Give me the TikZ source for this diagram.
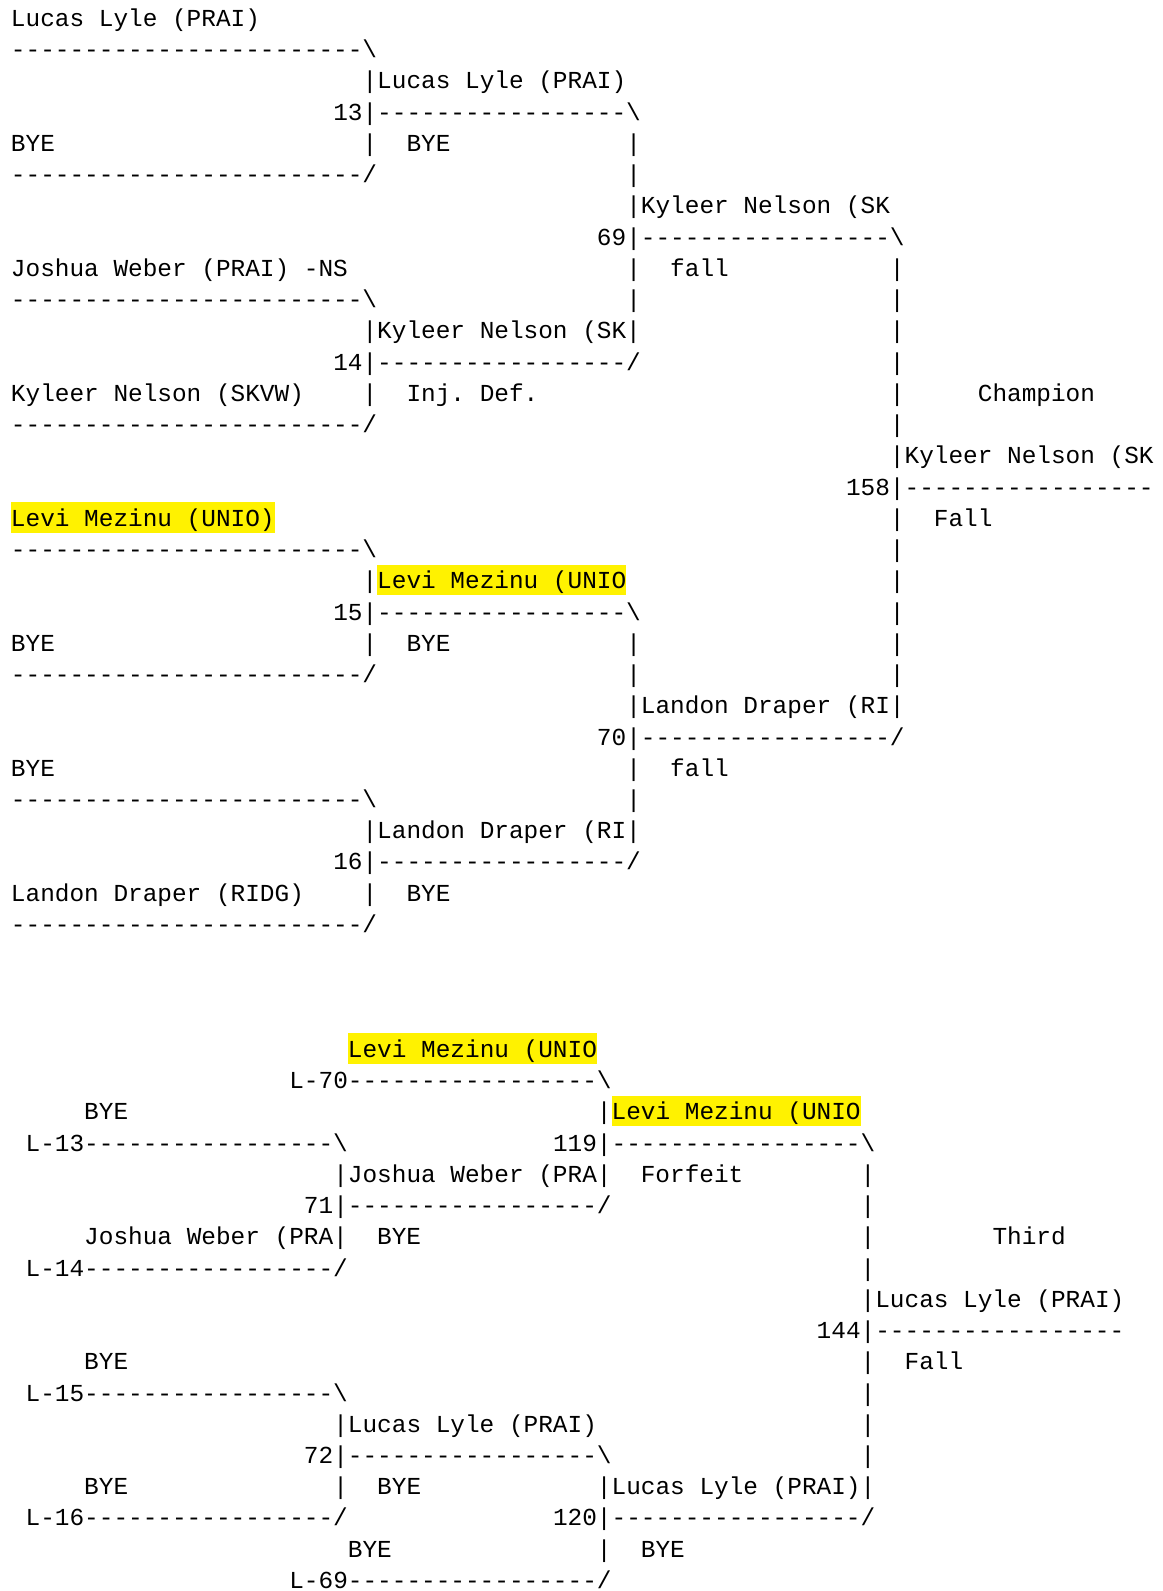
\documentclass[tikz,border=0pt]{standalone}
\usepackage{fontspec}
\setmonofont{Liberation Mono}
\usetikzlibrary{positioning}
\tikzset{
  asc/.style={font=\ttfamily\fontsize{24.41pt}{31.24pt}\selectfont,inner sep=0pt,outer sep=0pt,anchor=base west},
  hl/.style={asc,fill=yellow,text height=24.3pt,text depth=6.4pt}
}
\newcommand{\bs}{\textbackslash}

\begin{document}
\begin{tikzpicture}[x=14.65pt,y=-31.24pt]
  \fill[white] (0,0) rectangle (79.32,50.93);
  \useasboundingbox (0,0) rectangle (79.32,50.93);
  \begin{scope}[xshift=11pt,yshift=4.74pt]
  % championship bracket
  \node[asc] (e1) at (0,1) {Lucas Lyle (PRAI)};
  \node[asc] (l1) at (0,2) {------------------------\bs};
  \node[asc] (w13) at (24,3) {|Lucas Lyle (PRAI)};
  \node[asc] (m13) at (22,4) {13|-----------------\bs};
  \node[asc] (e2) at (0,5) {BYE};
  \node[asc] (r13) at (24,5) {|~~BYE};
  \node[asc] (l2) at (0,6) {------------------------/};
  \node[asc] (w69) at (42,7) {|Kyleer Nelson (SK};
  \node[asc] (m69) at (40,8) {69|-----------------\bs};
  \node[asc] (e3) at (0,9) {Joshua Weber (PRAI) -NS};
  \node[asc] (r69) at (42,9) {|~~fall};
  \node[asc] (l3) at (0,10) {------------------------\bs};
  \node[asc] (w14) at (24,11) {|Kyleer Nelson (SK|};
  \node[asc] (m14) at (22,12) {14|-----------------/};
  \node[asc] (e4) at (0,13) {Kyleer Nelson (SKVW)};
  \node[asc] (r14) at (24,13) {|~~Inj. Def.};
  \node[asc] (champ) at (60,13) {|~~~~~Champion};
  \node[asc] (l4) at (0,14) {------------------------/};
  \node[asc] (w158) at (60,15) {|Kyleer Nelson (SK};
  \node[asc] (m158) at (57,16) {158|-----------------};
  \node[hl] (e5) at (0,17) {Levi Mezinu (UNIO)};
  \node[asc] (r158) at (60,17) {|~~Fall};
  \node[asc] (l5) at (0,18) {------------------------\bs};
  \node[hl] (w15) at (25,19) {Levi Mezinu (UNIO};
  \node[asc] (m15) at (22,20) {15|-----------------\bs};
  \node[asc] (e6) at (0,21) {BYE};
  \node[asc] (r15) at (24,21) {|~~BYE};
  \node[asc] (l6) at (0,22) {------------------------/};
  \node[asc] (w70) at (42,23) {|Landon Draper (RI|};
  \node[asc] (m70) at (40,24) {70|-----------------/};
  \node[asc] (e7) at (0,25) {BYE};
  \node[asc] (r70) at (42,25) {|~~fall};
  \node[asc] (l7) at (0,26) {------------------------\bs};
  \node[asc] (w16) at (24,27) {|Landon Draper (RI|};
  \node[asc] (m16) at (22,28) {16|-----------------/};
  \node[asc] (e8) at (0,29) {Landon Draper (RIDG)};
  \node[asc] (r16) at (24,29) {|~~BYE};
  \node[asc] (l8) at (0,30) {------------------------/};
  \node[asc] (b24-19) at (24,19) {|};
  \foreach \r in {5,6,10,21,22,26}
    \node[asc] (b42-\r) at (42,\r) {|};
  \foreach \r in {9,10,11,12,14,18,19,20,21,22}
    \node[asc] (b60-\r) at (60,\r) {|};

  % consolation bracket
  \node[hl] (c1) at (23,34) {Levi Mezinu (UNIO};
  \node[asc] (cl70) at (19,35) {L-70-----------------\bs};
  \node[asc] (c2) at (5,36) {BYE};
  \node[asc] (b40-36) at (40,36) {|};
  \node[hl] (w119) at (41,36) {Levi Mezinu (UNIO};
  \node[asc] (cl13) at (1,37) {L-13-----------------\bs};
  \node[asc] (m119) at (37,37) {119|-----------------\bs};
  \node[asc] (w71) at (22,38) {|Joshua Weber (PRA|~~Forfeit};
  \node[asc] (m71) at (20,39) {71|-----------------/};
  \node[asc] (c3) at (5,40) {Joshua Weber (PRA|~~BYE};
  \node[asc] (third) at (58,40) {|~~~~~~~~Third};
  \node[asc] (cl14) at (1,41) {L-14-----------------/};
  \node[asc] (w144) at (58,42) {|Lucas Lyle (PRAI)};
  \node[asc] (m144) at (55,43) {144|-----------------};
  \node[asc] (c4) at (5,44) {BYE};
  \node[asc] (r144) at (58,44) {|~~Fall};
  \node[asc] (cl15) at (1,45) {L-15-----------------\bs};
  \node[asc] (w72) at (22,46) {|Lucas Lyle (PRAI)};
  \node[asc] (m72) at (20,47) {72|-----------------\bs};
  \node[asc] (c5) at (5,48) {BYE};
  \node[asc] (r72) at (22,48) {|~~BYE};
  \node[asc] (w120) at (40,48) {|Lucas Lyle (PRAI)|};
  \node[asc] (cl16) at (1,49) {L-16-----------------/};
  \node[asc] (m120) at (37,49) {120|-----------------/};
  \node[asc] (c6) at (23,50) {BYE};
  \node[asc] (r120) at (40,50) {|~~BYE};
  \node[asc] (cl69) at (19,51) {L-69-----------------/};
  \foreach \r in {38,39,41,45,46,47}
    \node[asc] (b58-\r) at (58,\r) {|};
  \end{scope}
\end{tikzpicture}
\end{document}
